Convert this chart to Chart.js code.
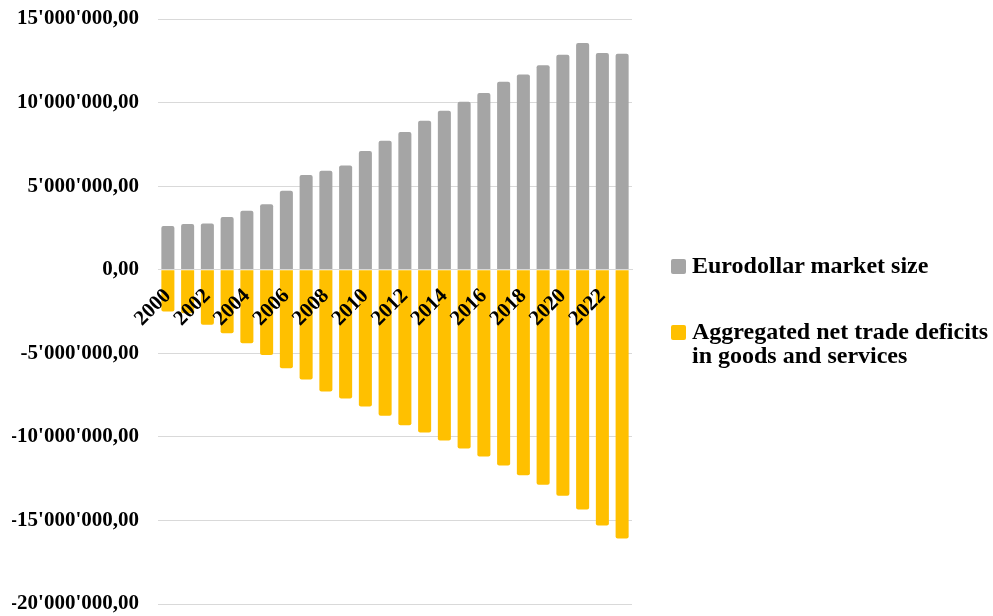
<!DOCTYPE html>
<html>
<head>
<meta charset="utf-8">
<script src="https://cdn.jsdelivr.net/npm/chart.js@4"></script>
<style>
	body { margin: 0; background: #fff; }
	#wrap { position: relative; width: 993px; height: 616px; }
	#legend { position: absolute; left: 671px; top: 253px; font-family: "Liberation Serif", "Times New Roman", serif; font-weight: bold; font-size: 24px; color: #000; }
	.item { position: relative; padding-left: 21px; line-height: 24px; }
	.box { position: absolute; left: 0; top: 6px; width: 15px; height: 15px; border-radius: 2px; }
</style>
</head>
<body>
<div id="wrap">
	<canvas id="recordChart" width="993" height="616"></canvas>
	<div id="legend"></div>
</div>
<script>
	//카테고리 (연도)
	var years = ['2000','2001','2002','2003','2004','2005','2006','2007','2008','2009','2010','2011',
		'2012','2013','2014','2015','2016','2017','2018','2019','2020','2021','2022','2023'];

	//Eurodollar market size
	var marketSize = [2610000, 2730000, 2770000, 3150000, 3530000, 3910000, 4720000, 5660000,
		5920000, 6240000, 7100000, 7720000, 8240000, 8910000, 9510000, 10050000,
		10570000, 11240000, 11680000, 12240000, 12860000, 13560000, 12960000, 12920000];

	//Aggregated net trade deficits
	var tradeDeficits = [-2500000, -2600000, -3300000, -3800000, -4400000, -5110000, -5890000, -6570000,
		-7290000, -7700000, -8180000, -8740000, -9300000, -9740000, -10220000, -10690000,
		-11170000, -11710000, -12290000, -12870000, -13530000, -14340000, -15300000, -16080000];

	var seriesNames = ['Eurodollar market size', 'Aggregated net trade deficits in goods and services'];
	var seriesColors = ['#A5A5A5', '#FFC000'];

	//y축 라벨 형식 15'000'000,00
	function fmt(v) {
		var neg = v < 0;
		var s = Math.abs(Math.round(v)).toString();
		s = s.replace(/\B(?=(\d{3})+(?!\d))/g, "'");
		return (neg ? '-' : '') + s + ',00';
	}

	var font = { family: '"Liberation Serif", "Times New Roman", serif', weight: 'bold', size: 21 };

	var data = {
		labels: years,
		datasets: [{
			label: seriesNames[0],
			data: marketSize,
			backgroundColor: seriesColors[0],
			borderRadius: 2,
			barPercentage: 0.66,
			categoryPercentage: 1
		}, {
			label: seriesNames[1],
			data: tradeDeficits,
			backgroundColor: seriesColors[1],
			borderRadius: 2,
			barPercentage: 0.66,
			categoryPercentage: 1
		}]
	};

	var config = {
		type: 'bar',
		data: data,
		options: {
			responsive: false,
			animation: false,
			layout: { padding: { left: 12, top: 19, bottom: 12, right: 361 } },
			scales: {
				x: {
					stacked: true,
					position: { y: 0 },
					grid: { display: false, drawTicks: false },
					border: { display: true, color: '#D9D9D9', width: 1, z: 1 },
					afterFit: function(scale) { scale.paddingLeft = 0; scale.paddingRight = 0; },
					ticks: {
						autoSkip: false,
						minRotation: 45,
						maxRotation: 45,
						padding: 14,
						z: 1,
						color: '#000',
						font: font,
						callback: function(val, i) { return i % 2 === 0 ? years[i] : ''; }
					}
				},
				y: {
					stacked: true,
					min: -20000000,
					max: 15000000,
					grid: { color: '#D9D9D9', drawTicks: false },
					border: { display: false },
					afterFit: function(scale) { scale.width = 146; scale.paddingTop = 0; scale.paddingBottom = 0; },
					ticks: {
						stepSize: 5000000,
						padding: 19,
						color: '#000',
						font: font,
						callback: function(v) { return fmt(v); }
					}
				}
			},
			plugins: {
				legend: { display: false },
				tooltip: { enabled: true }
			}
		}
	};

	var ctx1 = document.getElementById('recordChart').getContext('2d');
	new Chart(ctx1, config);

	//범례
	var legend = document.getElementById('legend');
	var texts = [['Eurodollar market size'], ['Aggregated net trade deficits', 'in goods and services']];
	for (var i = 0; i < texts.length; i++) {
		var item = document.createElement('div');
		item.className = 'item';
		if (i > 0) item.style.marginTop = '42px';
		item.innerHTML = '<span class="box" style="background:' + seriesColors[i] + '"></span>' + texts[i].join('<br>');
		legend.appendChild(item);
	}
</script>
</body>
</html>
